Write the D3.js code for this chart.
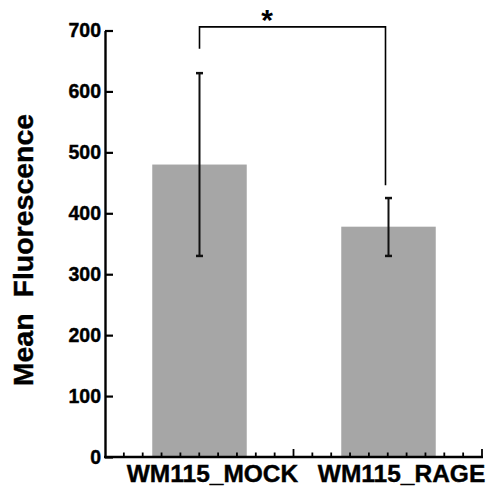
<!DOCTYPE html>
<html>
<head>
<meta charset="utf-8">
<script src="https://cdn.jsdelivr.net/npm/d3@7"></script>
<style>
  html, body { margin: 0; padding: 0; background: #fff; }
  svg { display: block; font-family: "Liberation Sans", Arial, Helvetica, sans-serif; }
</style>
</head>
<body>
<script>
// Mean fluorescence per cell line, with error bar bounds
const categories = ["WM115_MOCK", "WM115_RAGE"];
const means = [480, 378];
const errLow = [330, 330];
const errHigh = [630, 425];
const yTicks = [0, 100, 200, 300, 400, 500, 600, 700];
const yLabel = "Mean  Fluorescence";
const sigMark = "*";

const W = 489, H = 488;
const svg = d3.select("body").append("svg").attr("width", W).attr("height", H);

const x = d3.scaleBand().domain(categories).range([105, 483])
  .paddingInner(0.5).paddingOuter(0.25);
const y = d3.scaleLinear().domain([0, 700]).range([457, 30.5]);

// Bars
svg.append("g").selectAll("rect").data(categories).join("rect")
  .attr("x", d => x(d))
  .attr("width", x.bandwidth())
  .attr("y", (d, i) => y(means[i]))
  .attr("height", (d, i) => y(0) - y(means[i]))
  .attr("fill", "#a6a6a6");

// Error bars
const eb = svg.append("g").attr("stroke", "#111").attr("stroke-width", 2);
categories.forEach((c, i) => {
  const cx = x(c) + x.bandwidth() / 2;
  eb.append("line").attr("x1", cx).attr("x2", cx).attr("y1", y(errLow[i])).attr("y2", y(errHigh[i]));
  [errLow[i], errHigh[i]].forEach(v => {
    eb.append("line").attr("x1", cx - 3.5).attr("x2", cx + 3.5).attr("y1", y(v)).attr("y2", y(v))
      .attr("stroke-width", 2.5);
  });
});

// Y axis with inward ticks
const yAxis = d3.axisLeft(y).tickValues(yTicks).tickSize(-8).tickSizeOuter(0).tickPadding(4);
const gy = svg.append("g").attr("transform", "translate(105,0)").call(yAxis);
gy.select(".domain").attr("stroke", "#000").attr("stroke-width", 2.4);
gy.selectAll(".tick line").attr("stroke", "#000").attr("stroke-width", 2.2);
gy.selectAll(".tick text").attr("font-size", 19.5).attr("font-weight", "bold").attr("fill", "#000")
  .attr("font-family", "'Liberation Sans', Arial, sans-serif")
  .attr("stroke", "#000").attr("stroke-width", 0.4);

// X axis: baseline with minor ticks pointing up
const xm = d3.scaleLinear().domain([0, 20]).range([105, 482]);
const gx = svg.append("g");
gx.append("line").attr("x1", 104).attr("x2", xm(20) + 1).attr("y1", y(0)).attr("y2", y(0))
  .attr("stroke", "#000").attr("stroke-width", 2.4);
gx.selectAll("line.tk").data(d3.range(1, 21)).join("line").attr("class", "tk")
  .attr("x1", d => xm(d)).attr("x2", d => xm(d))
  .attr("y1", y(0))
  .attr("y2", d => y(0) - (d % 10 === 0 ? 8 : 4.5))
  .attr("stroke", "#000").attr("stroke-width", 1.8);

// Category labels
svg.append("g").selectAll("text").data(categories).join("text")
  .attr("x", d => x(d) + x.bandwidth() / 2 + 13)
  .attr("y", 482)
  .attr("text-anchor", "middle")
  .attr("font-size", 24.5).attr("font-weight", "bold").attr("fill", "#000")
  .attr("stroke", "#000").attr("stroke-width", 0.4)
  .text(d => d);

// Y axis title
svg.append("text")
  .attr("transform", "translate(33,250) rotate(-90)")
  .attr("text-anchor", "middle")
  .attr("font-size", 28.5).attr("font-weight", "bold").attr("fill", "#000")
  .attr("stroke", "#000").attr("stroke-width", 0.4)
  .attr("xml:space", "preserve").style("white-space", "pre")
  .text(yLabel);

// Significance bracket
const c0 = x(categories[0]) + x.bandwidth() / 2;
const c1 = x(categories[1]) + x.bandwidth() / 2 - 3;
svg.append("path")
  .attr("d", d3.line()([[c0, y(670)], [c0, y(706)], [c1, y(706)], [c1, y(446)]]))
  .attr("fill", "none").attr("stroke", "#000").attr("stroke-width", 1.6);
svg.append("text")
  .attr("x", 267).attr("y", 30)
  .attr("text-anchor", "middle")
  .attr("font-size", 30).attr("font-weight", "bold").attr("fill", "#000")
  .text(sigMark);
</script>
</body>
</html>
